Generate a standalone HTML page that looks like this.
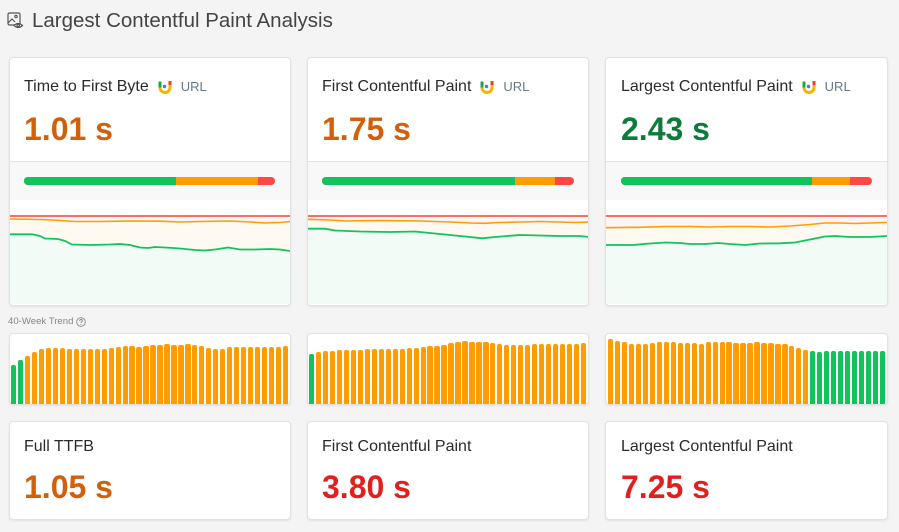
<!DOCTYPE html>
<html><head><meta charset="utf-8"><style>
*{margin:0;padding:0;box-sizing:border-box}
body{width:899px;height:532px;background:#f4f4f4;font-family:"Liberation Sans",Arial,sans-serif;position:relative;overflow:hidden}
.card{position:absolute;background:#fff;border:1px solid #e2e2e2;border-radius:4px;box-shadow:0 1px 2px rgba(0,0,0,.07);overflow:hidden}
.t{position:absolute;font-size:16px;line-height:20px;color:#2a2a2a;white-space:nowrap;display:flex;align-items:center}
.t .url{font-size:13px;color:#6b7888;margin-left:8px}
.t svg{margin-left:8px}
.v{position:absolute;font-size:32px;line-height:36px;font-weight:bold;white-space:nowrap}
.or{color:#d1600c}.gr{color:#0c7b3b}.rd{color:#e0201d}
.bars{position:absolute;display:flex;justify-content:space-between;align-items:flex-end}
.bars div{width:5.3px;background:#ff9d00;border-radius:2px 2px 0 0}
.bars div.g{background:#10c45c}
</style></head><body>

<!-- header -->
<svg style="position:absolute;left:7px;top:12px" width="17" height="18" viewBox="0 0 17 18" fill="none" stroke="#555" stroke-width="1.2">
<rect x="1" y="1" width="12" height="12" rx="1.5"/>
<path d="M1 11 L5 7 L8 10"/>
<circle cx="9" cy="4.5" r="1.2"/>
<path d="M7 13.5 Q11 9.5 15.5 13.5 Q11 17.5 7 13.5Z" fill="#f4f4f4"/>
<circle cx="11.2" cy="13.5" r="1.2"/>
</svg>
<div style="position:absolute;left:32px;top:8.5px;font-size:20.5px;line-height:24px;color:#444">Largest Contentful Paint Analysis</div>

<!-- top cards -->
<div class="card" style="left:9px;top:57px;width:282px;height:249px"></div>
<div class="card" style="left:307px;top:57px;width:282px;height:249px"></div>
<div class="card" style="left:605px;top:57px;width:283px;height:249px"></div>

<svg style="position:absolute;left:0;top:0" width="899" height="532">
<defs>
<clipPath id="c1"><rect x="10" y="200" width="280" height="104" rx="3"/></clipPath>
<clipPath id="c2"><rect x="308" y="200" width="280" height="104" rx="3"/></clipPath>
<clipPath id="c3"><rect x="606" y="200" width="281" height="104" rx="3"/></clipPath>
</defs>
<rect x="10" y="161" width="280" height="1" fill="#e2e2e2"/>
<rect x="10" y="162" width="280" height="38" fill="#f8f8f8"/>
<rect x="308" y="161" width="280" height="1" fill="#e2e2e2"/>
<rect x="308" y="162" width="280" height="38" fill="#f8f8f8"/>
<rect x="606" y="161" width="281" height="1" fill="#e2e2e2"/>
<rect x="606" y="162" width="281" height="38" fill="#f8f8f8"/>

<g>
<rect x="24" y="177" width="251" height="8" rx="4" fill="#ff4640"/>
<path d="M28 177 H258 V185 H28 A4 4 0 0 1 28 177Z" fill="#ff9d00"/>
<path d="M28 177 H176 V185 H28 A4 4 0 0 1 28 177Z" fill="#10c45c"/>
<rect x="322" y="177" width="252" height="8" rx="4" fill="#ff4640"/>
<path d="M326 177 H555 V185 H326 A4 4 0 0 1 326 177Z" fill="#ff9d00"/>
<path d="M326 177 H515 V185 H326 A4 4 0 0 1 326 177Z" fill="#10c45c"/>
<rect x="621" y="177" width="251" height="8" rx="4" fill="#ff4640"/>
<path d="M625 177 H850 V185 H625 A4 4 0 0 1 625 177Z" fill="#ff9d00"/>
<path d="M625 177 H812 V185 H625 A4 4 0 0 1 625 177Z" fill="#10c45c"/>
</g>

<g clip-path="url(#c1)">
<rect x="10" y="216" width="280" height="90" fill="#fff5f3"/>
<polygon fill="#fffaf1" points="10,219 40,219.5 60,220.5 75,221.5 100,221.5 130,221 160,221.2 180,222 200,221.5 230,221 250,222 265,223 280,222.5 290,221.5 290,306 10,306"/>
<polygon fill="#f2fbf6" points="10,234.3 32,234.3 40,236 45,238.5 58,239 65,241 72,244.5 90,245 110,244.5 120,244 130,245 140,247.5 148,248 155,247 165,247.5 180,248.5 195,250 205,250.5 215,249.5 228,247.5 240,249.5 255,249.5 270,249 280,249.5 290,251 290,306 10,306"/>
<line x1="10" y1="216" x2="290" y2="216" stroke="#f04438" stroke-width="1.6"/>
<polyline fill="none" stroke="#ff9d00" stroke-width="1.6" points="10,219 40,219.5 60,220.5 75,221.5 100,221.5 130,221 160,221.2 180,222 200,221.5 230,221 250,222 265,223 280,222.5 290,221.5"/>
<polyline fill="none" stroke="#10c45c" stroke-width="1.8" points="10,234.3 32,234.3 40,236 45,238.5 58,239 65,241 72,244.5 90,245 110,244.5 120,244 130,245 140,247.5 148,248 155,247 165,247.5 180,248.5 195,250 205,250.5 215,249.5 228,247.5 240,249.5 255,249.5 270,249 280,249.5 290,251"/>
</g>

<g clip-path="url(#c2)">
<rect x="308" y="216" width="280" height="90" fill="#fff5f3"/>
<polygon fill="#fffaf1" points="307,219.3 330,220 345,221 380,220.5 420,221 450,222 470,223 485,223.3 500,222.5 520,222 540,221.5 560,222 575,222.5 589,222 589,306 307,306"/>
<polygon fill="#f2fbf6" points="307,228.7 325,228.7 335,230.5 360,231.5 390,232 415,231.5 430,233 450,235 470,237 482,238.3 495,237 520,235 540,235.5 560,236 580,236 589,237 589,306 307,306"/>
<line x1="307" y1="216" x2="589" y2="216" stroke="#f04438" stroke-width="1.6"/>
<polyline fill="none" stroke="#ff9d00" stroke-width="1.6" points="307,219.3 330,220 345,221 380,220.5 420,221 450,222 470,223 485,223.3 500,222.5 520,222 540,221.5 560,222 575,222.5 589,222"/>
<polyline fill="none" stroke="#10c45c" stroke-width="1.8" points="307,228.7 325,228.7 335,230.5 360,231.5 390,232 415,231.5 430,233 450,235 470,237 482,238.3 495,237 520,235 540,235.5 560,236 580,236 589,237"/>
</g>

<g clip-path="url(#c3)">
<rect x="606" y="216" width="281" height="90" fill="#fff5f3"/>
<polygon fill="#fffaf1" points="606,227.7 640,227.3 665,226.5 690,226.5 710,227 730,226.5 750,226.5 770,227 790,226 810,224.5 825,223 840,223 855,223.5 870,223 887,222.5 887,306 606,306"/>
<polygon fill="#f2fbf6" points="606,245 633,245 650,243.5 665,242.5 680,243 690,244 705,244 718,243 730,244 745,245 760,243.5 780,243.3 795,242.5 810,239.5 825,236.5 835,236 850,237 870,237 887,236 887,306 606,306"/>
<line x1="606" y1="216" x2="887" y2="216" stroke="#f04438" stroke-width="1.6"/>
<polyline fill="none" stroke="#ff9d00" stroke-width="1.6" points="606,227.7 640,227.3 665,226.5 690,226.5 710,227 730,226.5 750,226.5 770,227 790,226 810,224.5 825,223 840,223 855,223.5 870,223 887,222.5"/>
<polyline fill="none" stroke="#10c45c" stroke-width="1.8" points="606,245 633,245 650,243.5 665,242.5 680,243 690,244 705,244 718,243 730,244 745,245 760,243.5 780,243.3 795,242.5 810,239.5 825,236.5 835,236 850,237 870,237 887,236"/>
</g>
</svg>

<div class="t" style="left:24px;top:76.5px">Time to First Byte
<svg width="16" height="16" viewBox="0 0 16 16"><path d="M3 2.5 V8.5" stroke="#18a84a" stroke-width="3" fill="none"/><path d="M3 8.5 A5 5 0 0 0 13 8.5 V6" stroke="#f5b400" stroke-width="3" fill="none"/><path d="M13 6 V2" stroke="#e8402f" stroke-width="3" fill="none"/><circle cx="7.5" cy="7.5" r="1.7" fill="#3a7cf0"/></svg>
<span class="url">URL</span></div>
<div class="v or" style="left:24px;top:111px">1.01 s</div>

<div class="t" style="left:322px;top:76.5px">First Contentful Paint
<svg width="16" height="16" viewBox="0 0 16 16"><path d="M3 2.5 V8.5" stroke="#18a84a" stroke-width="3" fill="none"/><path d="M3 8.5 A5 5 0 0 0 13 8.5 V6" stroke="#f5b400" stroke-width="3" fill="none"/><path d="M13 6 V2" stroke="#e8402f" stroke-width="3" fill="none"/><circle cx="7.5" cy="7.5" r="1.7" fill="#3a7cf0"/></svg>
<span class="url">URL</span></div>
<div class="v or" style="left:322px;top:111px">1.75 s</div>

<div class="t" style="left:621px;top:76.5px">Largest Contentful Paint
<svg width="16" height="16" viewBox="0 0 16 16"><path d="M3 2.5 V8.5" stroke="#18a84a" stroke-width="3" fill="none"/><path d="M3 8.5 A5 5 0 0 0 13 8.5 V6" stroke="#f5b400" stroke-width="3" fill="none"/><path d="M13 6 V2" stroke="#e8402f" stroke-width="3" fill="none"/><circle cx="7.5" cy="7.5" r="1.7" fill="#3a7cf0"/></svg>
<span class="url">URL</span></div>
<div class="v gr" style="left:621px;top:111px">2.43 s</div>

<div style="position:absolute;left:8px;top:315.5px;font-size:9.6px;line-height:12px;color:#858585;display:flex;align-items:center">40-Week Trend
<svg style="margin-left:3px" width="10" height="10" viewBox="0 0 10 10"><circle cx="5" cy="5" r="4.3" fill="none" stroke="#888" stroke-width="0.9"/><path d="M3.6 3.9 Q3.7 2.5 5 2.5 Q6.4 2.5 6.4 3.7 Q6.4 4.5 5.4 4.9 Q5 5.1 5 6" fill="none" stroke="#888" stroke-width="0.9"/><circle cx="5" cy="7.4" r="0.55" fill="#888"/></svg></div>

<div class="card" style="left:9px;top:333px;width:282px;height:72px"></div>
<div class="card" style="left:307px;top:333px;width:282px;height:72px"></div>
<div class="card" style="left:605px;top:333px;width:283px;height:72px"></div>

<div class="bars" style="left:11px;top:334px;width:277.3px;height:70px">
<div class="g" style="height:39px"></div><div class="g" style="height:44px"></div><div style="height:48px"></div><div style="height:52px"></div><div style="height:55px"></div><div style="height:56px"></div><div style="height:56px"></div><div style="height:56px"></div><div style="height:55px"></div><div style="height:55px"></div>
<div style="height:55px"></div><div style="height:55px"></div><div style="height:55px"></div><div style="height:55px"></div><div style="height:56px"></div><div style="height:57px"></div><div style="height:58px"></div><div style="height:58px"></div><div style="height:57px"></div><div style="height:58px"></div>
<div style="height:59px"></div><div style="height:59px"></div><div style="height:60px"></div><div style="height:59px"></div><div style="height:59px"></div><div style="height:60px"></div><div style="height:59px"></div><div style="height:58px"></div><div style="height:56px"></div><div style="height:55px"></div>
<div style="height:55px"></div><div style="height:57px"></div><div style="height:57px"></div><div style="height:57px"></div><div style="height:57px"></div><div style="height:57px"></div><div style="height:57px"></div><div style="height:57px"></div><div style="height:57px"></div><div style="height:58px"></div>
</div>

<div class="bars" style="left:309px;top:334px;width:277.3px;height:70px">
<div class="g" style="height:50px"></div><div style="height:52px"></div><div style="height:53px"></div><div style="height:53px"></div><div style="height:54px"></div><div style="height:54px"></div><div style="height:54px"></div><div style="height:54px"></div><div style="height:55px"></div><div style="height:55px"></div>
<div style="height:55px"></div><div style="height:55px"></div><div style="height:55px"></div><div style="height:55px"></div><div style="height:56px"></div><div style="height:56px"></div><div style="height:57px"></div><div style="height:58px"></div><div style="height:58px"></div><div style="height:59px"></div>
<div style="height:61px"></div><div style="height:62px"></div><div style="height:63px"></div><div style="height:62px"></div><div style="height:62px"></div><div style="height:62px"></div><div style="height:61px"></div><div style="height:60px"></div><div style="height:59px"></div><div style="height:59px"></div>
<div style="height:59px"></div><div style="height:59px"></div><div style="height:60px"></div><div style="height:60px"></div><div style="height:60px"></div><div style="height:60px"></div><div style="height:60px"></div><div style="height:60px"></div><div style="height:60px"></div><div style="height:61px"></div>
</div>

<div class="bars" style="left:608px;top:334px;width:277.3px;height:70px">
<div style="height:65px"></div><div style="height:63px"></div><div style="height:62px"></div><div style="height:60px"></div><div style="height:60px"></div><div style="height:60px"></div><div style="height:61px"></div><div style="height:62px"></div><div style="height:62px"></div><div style="height:62px"></div>
<div style="height:61px"></div><div style="height:61px"></div><div style="height:61px"></div><div style="height:60px"></div><div style="height:62px"></div><div style="height:62px"></div><div style="height:62px"></div><div style="height:62px"></div><div style="height:61px"></div><div style="height:61px"></div>
<div style="height:61px"></div><div style="height:62px"></div><div style="height:61px"></div><div style="height:61px"></div><div style="height:60px"></div><div style="height:60px"></div><div style="height:58px"></div><div style="height:56px"></div><div style="height:54px"></div><div class="g" style="height:53px"></div>
<div class="g" style="height:52px"></div><div class="g" style="height:53px"></div><div class="g" style="height:53px"></div><div class="g" style="height:53px"></div><div class="g" style="height:53px"></div><div class="g" style="height:53px"></div><div class="g" style="height:53px"></div><div class="g" style="height:53px"></div><div class="g" style="height:53px"></div><div class="g" style="height:53px"></div>
</div>

<div class="card" style="left:9px;top:421px;width:282px;height:99px"></div>
<div class="card" style="left:307px;top:421px;width:282px;height:99px"></div>
<div class="card" style="left:605px;top:421px;width:283px;height:99px"></div>

<div class="t" style="left:24px;top:436.5px">Full TTFB</div>
<div class="v or" style="left:24px;top:469px">1.05 s</div>
<div class="t" style="left:322px;top:436.5px">First Contentful Paint</div>
<div class="v rd" style="left:322px;top:469px">3.80 s</div>
<div class="t" style="left:621px;top:436.5px">Largest Contentful Paint</div>
<div class="v rd" style="left:621px;top:469px">7.25 s</div>

</body></html>
